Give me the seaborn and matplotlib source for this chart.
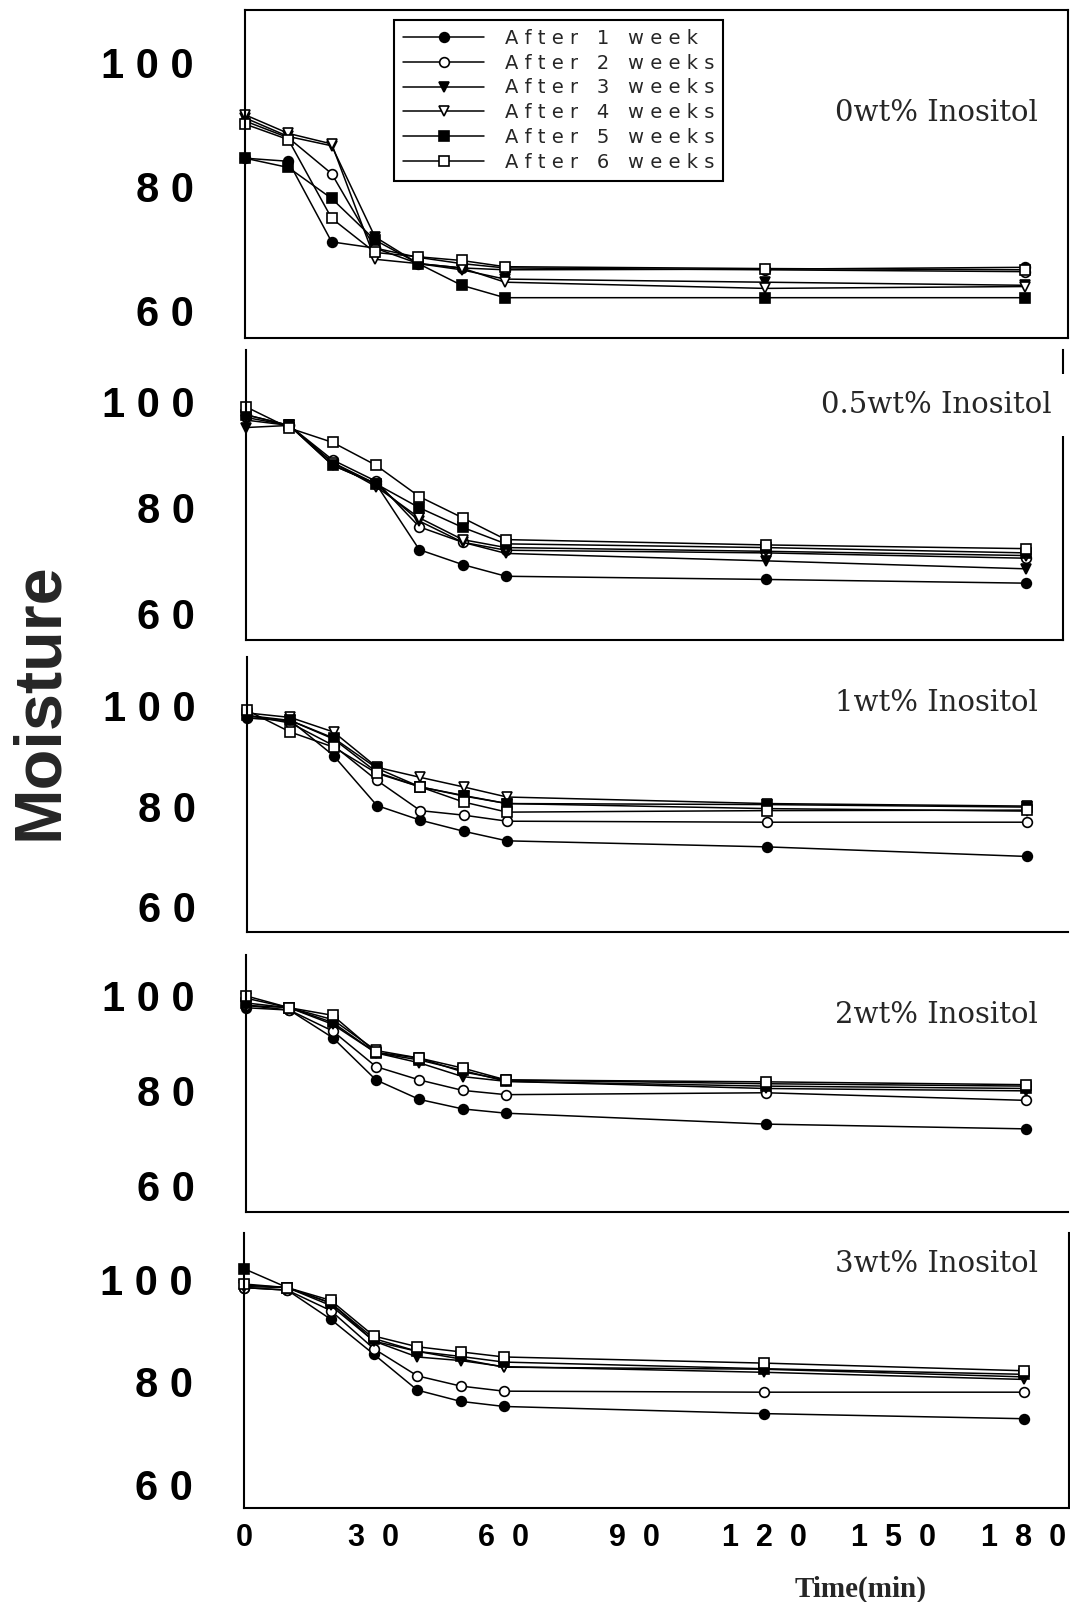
import matplotlib
matplotlib.use('Agg')
import matplotlib.pyplot as plt
import seaborn as sns
import warnings

warnings.filterwarnings('ignore')

# sampling times (min)
times = [0, 10, 20, 30, 40, 50, 60, 120, 180]

week_labels = ['After 1 week', 'After 2 weeks', 'After 3 weeks',
               'After 4 weeks', 'After 5 weeks', 'After 6 weeks']

panel_labels = ['0wt% Inositol', '0.5wt% Inositol', '1wt% Inositol',
                '2wt% Inositol', '3wt% Inositol']

# moisture, one row per storage week (1..6)
moist_0 = [
    [84.5, 84.0, 71.0, 70.0, 67.5, 66.8, 66.5, 66.6, 66.9],
    [90.5, 87.8, 82.0, 70.0, 68.5, 67.5, 66.8, 66.5, 66.2],
    [91.0, 88.0, 86.5, 71.8, 67.5, 66.5, 65.0, 64.5, 64.0],
    [91.5, 88.5, 86.8, 68.2, 67.5, 66.8, 64.5, 63.5, 63.8],
    [84.5, 83.0, 78.0, 71.3, 67.5, 64.0, 62.0, 62.0, 62.0],
    [90.0, 87.5, 74.8, 69.3, 68.6, 68.0, 67.0, 66.7, 66.5],
]
moist_05 = [
    [97.0, 95.5, 88.5, 84.5, 72.1, 69.3, 67.1, 66.5, 65.8],
    [97.5, 95.5, 89.0, 85.0, 76.4, 73.5, 72.0, 71.5, 70.5],
    [95.1, 95.5, 88.0, 84.5, 77.5, 73.5, 71.4, 70.0, 68.5],
    [96.5, 95.5, 88.5, 84.0, 78.1, 74.0, 72.5, 71.8, 71.0],
    [97.5, 95.5, 88.0, 84.5, 80.0, 76.3, 73.2, 72.5, 71.5],
    [99.0, 95.0, 92.3, 88.0, 82.1, 78.1, 74.0, 73.0, 72.3],
]
moist_1 = [
    [97.5, 97.0, 90.0, 80.1, 77.2, 75.0, 73.1, 71.9, 70.0],
    [98.0, 96.5, 92.0, 85.1, 79.1, 78.2, 77.0, 76.8, 76.8],
    [97.5, 97.0, 93.3, 86.7, 83.8, 82.1, 80.5, 79.5, 79.0],
    [98.5, 97.6, 94.7, 87.7, 85.7, 83.8, 81.8, 80.5, 80.0],
    [98.0, 97.0, 93.5, 87.5, 83.8, 82.0, 80.5, 80.3, 79.8],
    [99.0, 94.7, 91.7, 86.5, 83.8, 80.8, 78.8, 79.1, 79.2],
]
moist_2 = [
    [97.5, 97.0, 91.2, 82.3, 78.2, 76.2, 75.3, 73.0, 72.0],
    [98.0, 97.0, 92.6, 85.1, 82.3, 80.1, 79.2, 79.6, 78.0],
    [98.0, 97.5, 94.0, 88.0, 85.9, 83.0, 82.0, 80.5, 80.0],
    [99.5, 97.5, 95.0, 88.5, 86.9, 84.0, 82.3, 81.5, 81.0],
    [98.5, 97.5, 94.4, 88.0, 86.5, 84.3, 82.0, 81.0, 80.5],
    [100.0, 97.5, 95.9, 88.1, 86.9, 84.8, 82.3, 81.9, 81.3],
]
moist_3 = [
    [98.5, 98.0, 92.3, 85.4, 78.4, 76.2, 75.2, 73.8, 72.8],
    [98.5, 98.0, 94.0, 86.5, 81.2, 79.2, 78.2, 78.0, 78.0],
    [99.0, 98.5, 95.0, 88.0, 84.9, 84.2, 83.0, 81.9, 80.5],
    [98.7, 98.5, 95.5, 88.0, 86.0, 84.5, 82.9, 82.5, 81.0],
    [102.2, 98.5, 95.5, 88.5, 86.0, 85.0, 83.9, 82.6, 81.5],
    [99.2, 98.5, 96.0, 89.0, 86.9, 85.9, 84.9, 83.7, 82.2],
]
panel_data = [moist_0, moist_05, moist_1, moist_2, moist_3]

# marker, filled?
styles = [('o', True), ('o', False), ('v', True), ('v', False), ('s', True), ('s', False)]

W, H = 1070, 1602
# panel boxes in pixels: left, top, right, bottom
boxes = [(245, 10, 1068, 338), (246, 350, 1063, 640), (247, 657, 1068, 932),
         (246, 955, 1068, 1212), (244, 1233, 1069, 1508)]
ylims = [(55.5, 108.4), (55.1, 109.7), (55.0, 109.6), (54.5, 108.6), (55.3, 109.2)]
right_spine = [True, True, False, False, True]
label_pos = [(1038, 113), (1052, 405), (1038, 703), (1038, 1015), (1038, 1264)]
px_per_min = 4.333


def legend_text(s):
    # letter-spaced legend text, like the original
    return '   '.join(' '.join(w) for w in s.split())


sns.set_style('white')
plt.rcParams['font.family'] = ['DejaVu Sans']

fig = plt.figure(figsize=(W / 100, H / 100), dpi=100)

ylab_font = dict(family=['Liberation Sans', 'DejaVu Sans'], weight='bold', size=30)
xlab_font = dict(family=['Liberation Sans', 'DejaVu Sans'], weight='bold', size=22)

for i, (box, data) in enumerate(zip(boxes, panel_data)):
    l, t, r, b = box
    ax = fig.add_axes([l / W, 1 - b / H, (r - l) / W, (b - t) / H])
    for (mk, filled), vals, lab in zip(styles, data, week_labels):
        sns.lineplot(x=times, y=vals, ax=ax, color='black', linewidth=1.1,
                     marker=mk, markersize=7.5 if mk != 'o' else 7,
                     markerfacecolor='black' if filled else 'white',
                     markeredgecolor='black', markeredgewidth=1.2,
                     label=legend_text(lab), legend=False, clip_on=False)
    ax.set_xlim(0, (r - l) / px_per_min)
    ax.set_ylim(*ylims[i])
    ax.set_xlabel('')
    ax.set_ylabel('')
    ax.set_xticks([0, 30, 60, 90, 120, 150, 180])
    ax.set_yticks([60, 80, 100])
    ax.set_yticklabels(['6 0', '8 0', '1 0 0'], fontdict=ylab_font)
    if i == 4:
        ax.set_xticklabels(['0', '3  0', '6  0', '9  0', '1  2  0', '1  5  0', '1  8  0'],
                           fontdict=xlab_font)
    else:
        ax.set_xticklabels([])
    ax.tick_params(axis='x', direction='in', length=11, width=1.2, pad=11, colors='black')
    ax.tick_params(axis='y', direction='in', length=7, width=1.2, pad=37, colors='black')
    for side in ['left', 'bottom', 'right', 'top']:
        ax.spines[side].set_color('black')
        ax.spines[side].set_linewidth(1.5)
    ax.spines['top'].set_visible(i == 0)
    ax.spines['right'].set_visible(right_spine[i])
    ax.set_facecolor('none')

    lx, ly = label_pos[i]
    fig.text(lx / W, 1 - ly / H, panel_labels[i], family='DejaVu Serif', size=21,
             ha='right', va='center', zorder=5,
             bbox=dict(facecolor='white', edgecolor='none', pad=12) if i == 1 else None)

    if i == 0:
        leg = ax.legend(loc='upper left', bbox_to_anchor=(394 / W, 1 - 20 / H),
                        bbox_transform=fig.transFigure, frameon=True, fancybox=False,
                        edgecolor='black', framealpha=1, fontsize=14,
                        handlelength=4.2, handletextpad=1.05, labelspacing=0.3,
                        borderpad=0.45, borderaxespad=0)
        leg.get_frame().set_linewidth(1.5)

fig.text(40 / W, 1 - 701 / H, 'Moisture', family=['Liberation Sans', 'DejaVu Sans'],
         weight='bold', size=48, rotation=90, ha='center', va='center')
fig.text(861 / W, 1 - 1589 / H, 'Time(min)', family=['Liberation Serif', 'DejaVu Serif'],
         weight='bold', size=21, ha='center', va='center')

fig.savefig('out.png', dpi=100, facecolor='white')
